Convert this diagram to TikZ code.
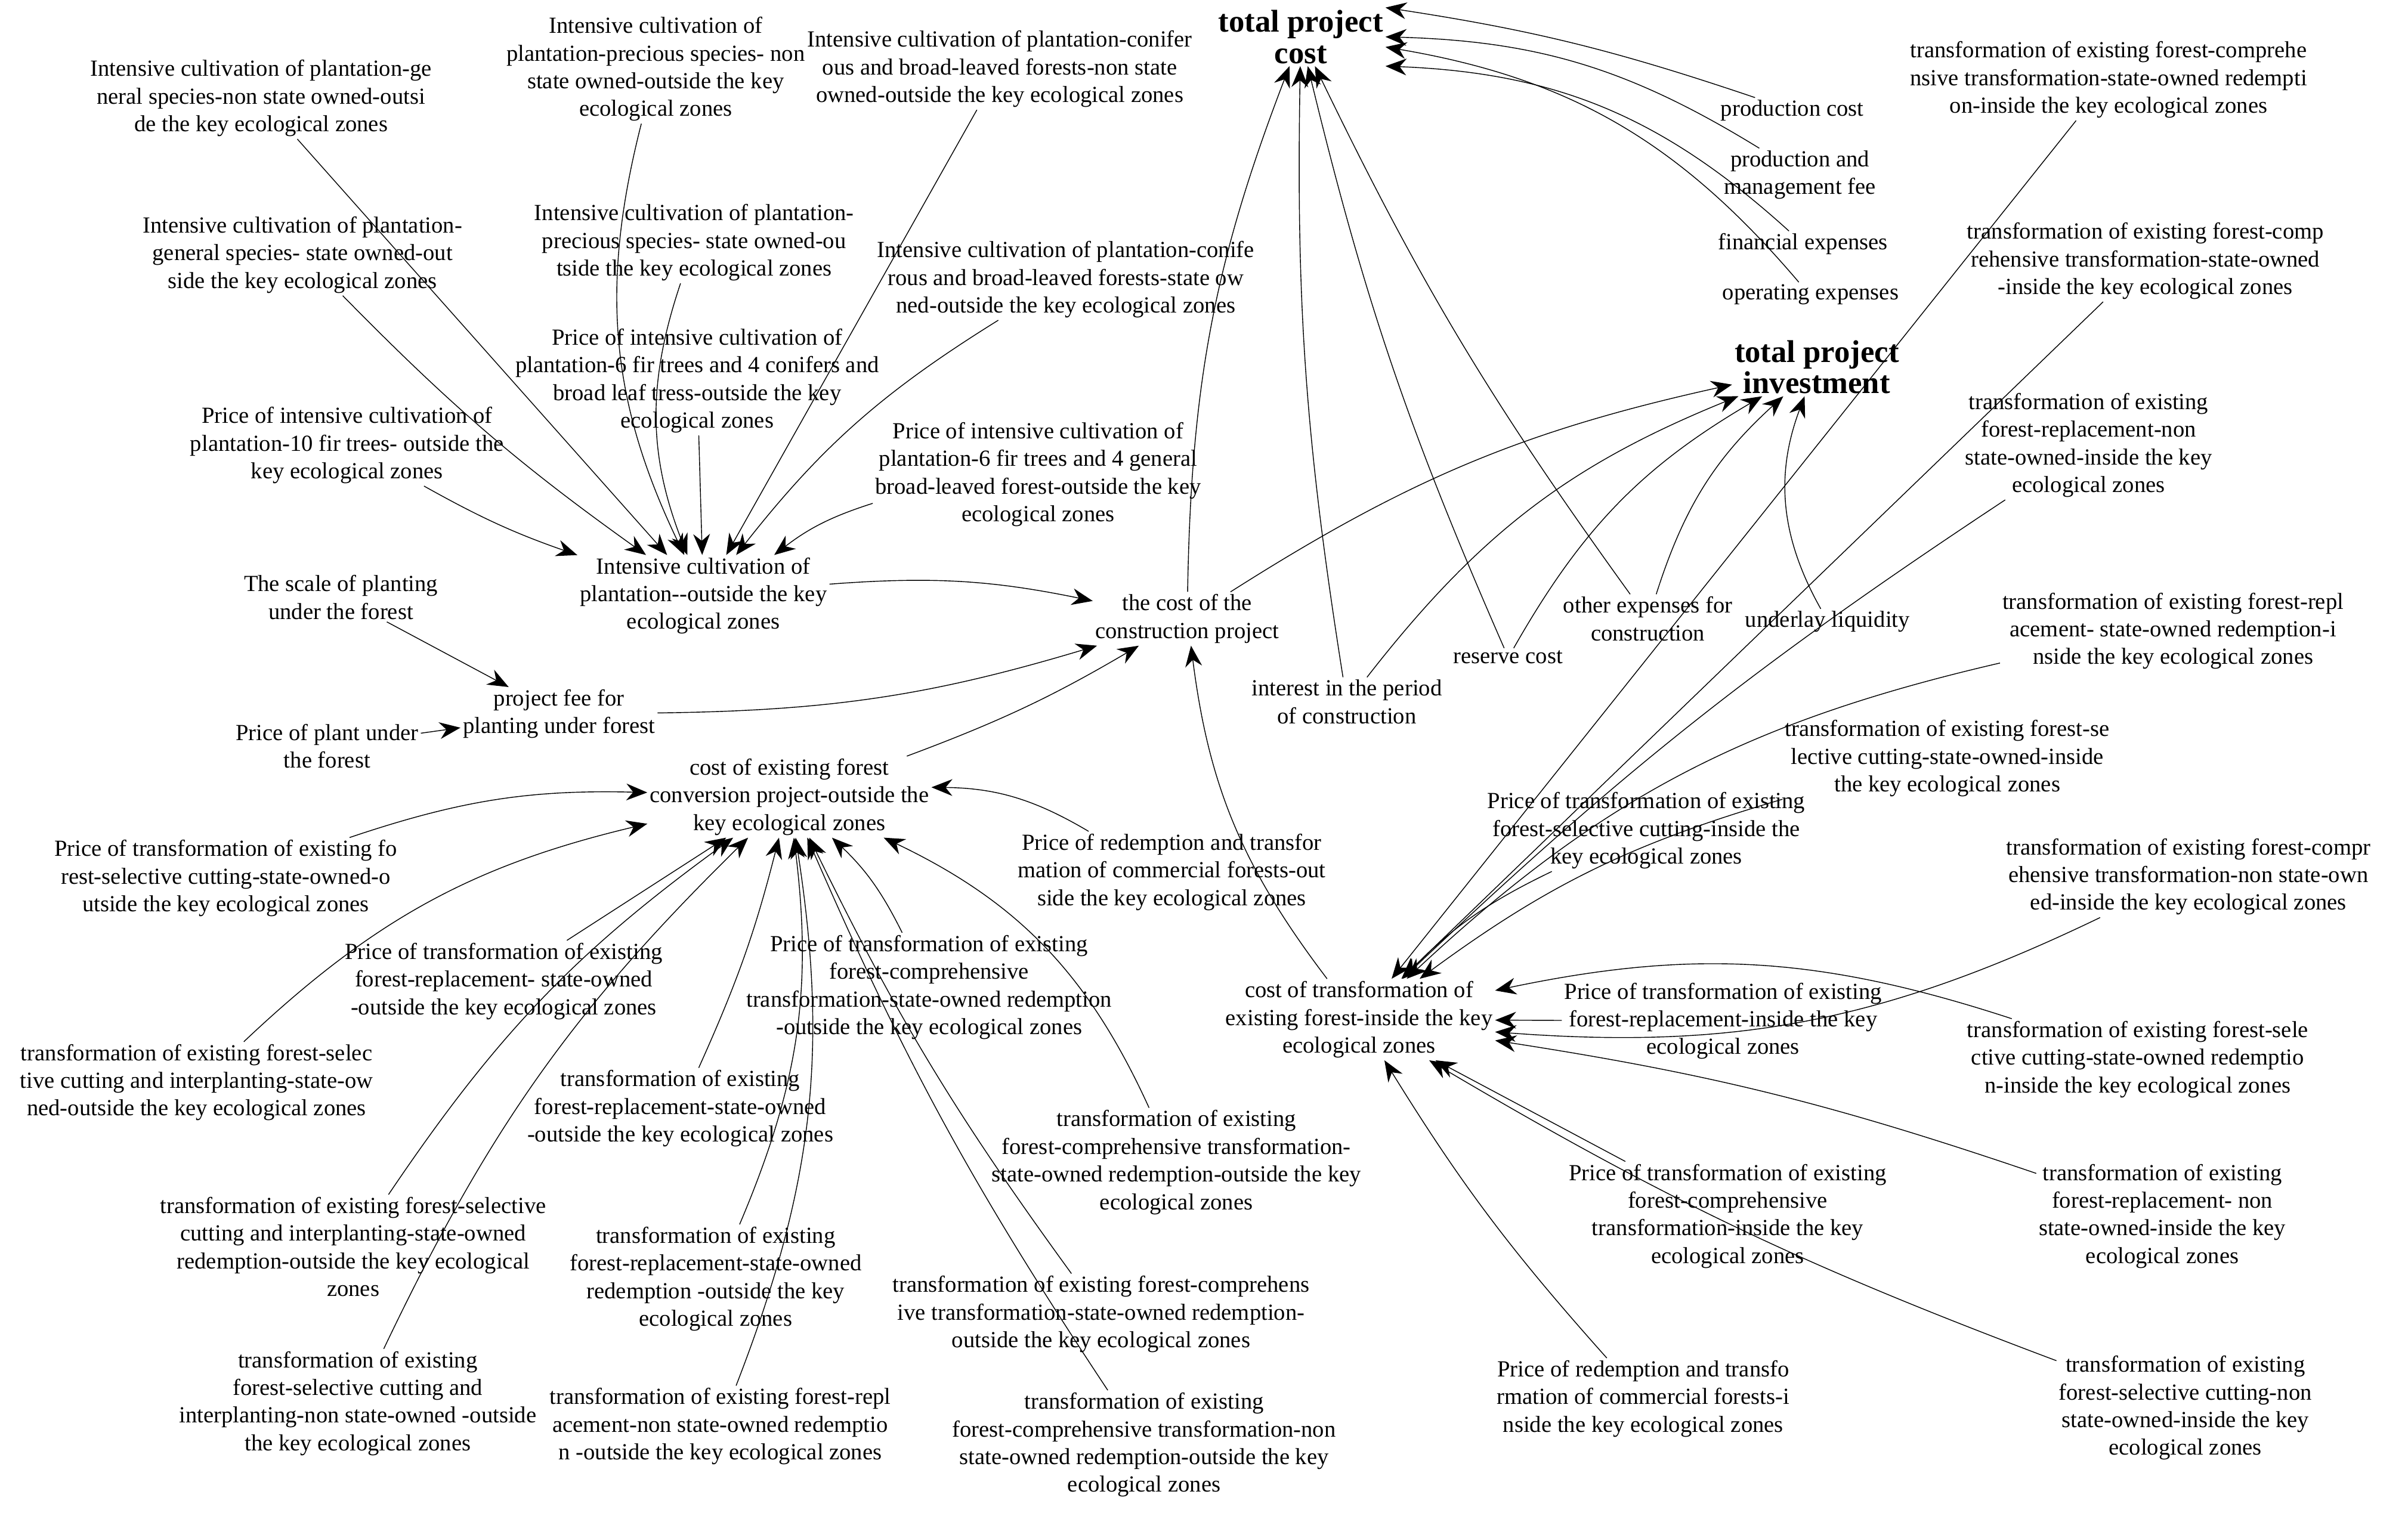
\documentclass[tikz,border=0pt]{standalone}
\usepackage{fontspec}
\setmainfont{Liberation Serif}
\usetikzlibrary{arrows.meta}
\begin{document}
\begin{tikzpicture}[x=0.02575cm,y=-0.02575cm,>={Stealth[length=10pt,width=8pt]}]
\tikzset{var/.style={align=center,inner sep=1pt,font=\fontsize{11}{13.2}\selectfont},
  big/.style={align=center,inner sep=1pt,font=\fontsize{15}{15}\selectfont\bfseries},
  arr/.style={->,thin,black}}
\useasboundingbox (0,0) rectangle (1568,985);
% top level
\node[big] (tc) at (847,24) {total project\\cost};
\node[big] (ti) at (1183,239) {total project\\investment};
\node[var] (prod) at (1167,72) {production cost};
\node[var] (mgmt) at (1172,114) {production and\\management fee};
\node[var] (fin) at (1174,159) {financial expenses};
\node[var] (oper) at (1179,192) {operating expenses};
\node[var] (ul) at (1190,405) {underlay liquidity};
\node[var] (oe) at (1073,403) {other expenses for\\construction};
\node[var] (rc) at (982,428) {reserve cost};
\node[var] (ip) at (877,457) {interest in the period\\of construction};
\node[var] (cc) at (773,403) {the cost of the\\construction project};
% inside the key zones
\node[var] (ci) at (885,664) {cost of transformation of\\existing forest-inside the key\\ecological zones};
\node[var] (t1) at (1373,52) {transformation of existing forest-comprehe\\nsive transformation-state-owned redempti\\on-inside the key ecological zones};
\node[var] (t2) at (1397,170) {transformation of existing forest-comp\\rehensive transformation-state-owned\\-inside the key ecological zones};
\node[var] (t3) at (1360,290) {transformation of existing\\forest-replacement-non\\state-owned-inside the key\\ecological zones};
\node[var] (t4) at (1415,411) {transformation of existing forest-repl\\acement- state-owned redemption-i\\nside the key ecological zones};
\node[var] (t5) at (1268,494) {transformation of existing forest-se\\lective cutting-state-owned-inside\\the key ecological zones};
\node[var] (t6) at (1425,571) {transformation of existing forest-compr\\ehensive transformation-non state-own\\ed-inside the key ecological zones};
\node[var] (t7) at (1392,690) {transformation of existing forest-sele\\ctive cutting-state-owned redemptio\\n-inside the key ecological zones};
\node[var] (t8) at (1408,792) {transformation of existing\\forest-replacement- non\\state-owned-inside the key\\ecological zones};
\node[var] (t9) at (1423,917) {transformation of existing\\forest-selective cutting-non\\state-owned-inside the key\\ecological zones};
\node[var] (p1) at (1070,911) {Price of redemption and transfo\\rmation of commercial forests-i\\nside the key ecological zones};
\node[var] (p2) at (1125,792) {Price of transformation of existing\\forest-comprehensive\\transformation-inside the key\\ecological zones};
\node[var] (p3) at (1122,665) {Price of transformation of existing\\forest-replacement-inside the key\\ecological zones};
\node[var] (p4) at (1072,541) {Price of transformation of existing\\forest-selective cutting-inside the\\key ecological zones};
% intensive cultivation
\node[var] (ico) at (458,388) {Intensive cultivation of\\plantation{-}{-}outside the key\\ecological zones};
\node[var] (a1) at (170,64) {Intensive cultivation of plantation-ge\\neral species-non state owned-outsi\\de the key ecological zones};
\node[var] (a2) at (427,45) {Intensive cultivation of\\plantation-precious species- non\\state owned-outside the key\\ecological zones};
\node[var] (a3) at (651,45) {Intensive cultivation of plantation-conifer\\ous and broad-leaved forests-non state\\owned-outside the key ecological zones};
\node[var] (a4) at (197,166) {Intensive cultivation of plantation-\\general species- state owned-out\\side the key ecological zones};
\node[var] (a5) at (452,158) {Intensive cultivation of plantation-\\precious species- state owned-ou\\tside the key ecological zones};
\node[var] (a6) at (694,182) {Intensive cultivation of plantation-conife\\rous and broad-leaved forests-state ow\\ned-outside the key ecological zones};
\node[var] (a7) at (454,248) {Price of intensive cultivation of\\plantation-6 fir trees and 4 conifers and\\broad leaf tress-outside the key\\ecological zones};
\node[var] (a8) at (226,290) {Price of intensive cultivation of\\plantation-10 fir trees- outside the\\key ecological zones};
\node[var] (a9) at (676,309) {Price of intensive cultivation of\\plantation-6 fir trees and 4 general\\broad-leaved forest-outside the key\\ecological zones};
% planting under forest
\node[var] (pf) at (364,465) {project fee for\\planting under forest};
\node[var] (sp) at (222,389) {The scale of planting\\under the forest};
\node[var] (pp) at (213,486) {Price of plant under\\the forest};
% outside the key zones
\node[var] (co) at (514,519) {cost of existing forest\\conversion project-outside the\\key ecological zones};
\node[var] (b1) at (147,572) {Price of transformation of existing fo\\rest-selective cutting-state-owned-o\\utside the key ecological zones};
\node[var] (b2) at (763,568) {Price of redemption and transfor\\mation of commercial forests-out\\side the key ecological zones};
\node[var] (b3) at (328,639) {Price of transformation of existing\\forest-replacement- state-owned\\-outside the key ecological zones};
\node[var] (b4) at (605,643) {Price of transformation of existing\\forest-comprehensive\\transformation-state-owned redemption\\-outside the key ecological zones};
\node[var] (b5) at (128,705) {transformation of existing forest-selec\\tive cutting and interplanting-state-ow\\ned-outside the key ecological zones};
\node[var] (b6) at (443,722) {transformation of existing\\forest-replacement-state-owned\\-outside the key ecological zones};
\node[var] (b7) at (766,757) {transformation of existing\\forest-comprehensive transformation-\\state-owned redemption-outside the key\\ecological zones};
\node[var] (b8) at (230,812) {transformation of existing forest-selective\\cutting and interplanting-state-owned\\redemption-outside the key ecological\\zones};
\node[var] (b9) at (466,833) {transformation of existing\\forest-replacement-state-owned\\redemption -outside the key\\ecological zones};
\node[var] (b10) at (717,856) {transformation of existing forest-comprehens\\ive transformation-state-owned redemption-\\outside the key ecological zones};
\node[var] (b11) at (233,914) {transformation of existing\\forest-selective cutting and\\interplanting-non state-owned -outside\\the key ecological zones};
\node[var] (b12) at (469,929) {transformation of existing forest-repl\\acement-non state-owned redemptio\\n -outside the key ecological zones};
\node[var] (b13) at (745,941) {transformation of existing\\forest-comprehensive transformation-non\\state-owned redemption-outside the key\\ecological zones};
% connectors
\draw[arr] (prod) to[bend right=5] (tc.north east);
\draw[arr] (mgmt) to[bend right=15] (tc.east);
\draw[arr] (fin) to[bend right=20] (tc.south east);
\draw[arr] (oper) to[bend right=20] (tc);
\draw[arr] (cc) to[bend left=10] (tc);
\draw[arr] (ip) to[bend left=5] (tc);
\draw[arr] (rc) to[bend left=5] (tc);
\draw[arr] (oe) to[bend left=5] (tc);
\draw[arr] (cc) to[bend left=10] (ti);
\draw[arr] (ip) to[bend left=15] (ti);
\draw[arr] (rc) to[bend left=15] (ti);
\draw[arr] (oe) to[bend left=15] (ti);
\draw[arr] (ul) to[bend left=25] (ti);
\draw[arr] (ico) to[bend left=8] (cc);
\draw[arr] (pf) to[bend right=8] (cc);
\draw[arr] (co) to[bend right=5] (cc);
\draw[arr] (ci) to[bend left=15] (cc);
\draw[arr] (sp) -- (pf);
\draw[arr] (pp) -- (pf);
\foreach \n/\b in {a1/0,a2/20,a3/0,a4/5,a5/20,a6/10,a7/0,a8/5,a9/10}
  \draw[arr] (\n) to[bend right=\b] (ico);
\foreach \n/\b in {b1/-10,b2/15,b3/0,b4/10,b5/-15,b6/5,b7/20,b8/-10,b9/15,b10/-5,b11/-10,b12/15,b13/-5}
  \draw[arr] (\n) to[bend right=\b] (co);
\foreach \n/\b in {t1/0,t2/0,t3/5,t4/15,t5/10,t6/-15,t7/15,t8/5,t9/-5,p1/-5,p2/0,p3/0,p4/10}
  \draw[arr] (\n) to[bend right=\b] (ci);
\end{tikzpicture}
\end{document}
